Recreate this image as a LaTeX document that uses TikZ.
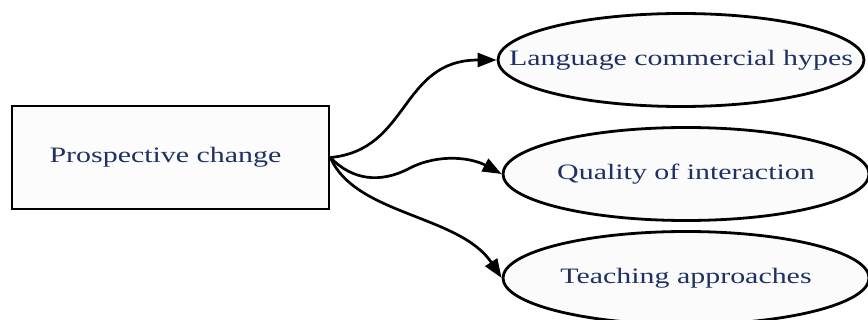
\documentclass[tikz,border=0pt]{standalone}
\usepackage{fontspec}
\setmainfont[FakeStretch=1.36]{Liberation Serif}
\usetikzlibrary{arrows.meta,shapes.geometric}

\definecolor{labelblue}{RGB}{30,48,100}

\begin{document}
\begin{tikzpicture}[x=1pt, y=-1pt, >={Triangle[length=19pt,width=14pt]},
		change/.style={draw, line width=2.7pt, fill=gray!2, minimum width=317pt, minimum height=103pt, inner sep=0pt, text=labelblue, font=\fontsize{22}{24}\selectfont},
		effect/.style={ellipse, draw, line width=2.8pt, fill=gray!3, minimum width=366pt, minimum height=93pt, inner sep=0pt, text=labelblue, font=\fontsize{22}{24}\selectfont},
		link/.style={->, line width=2.7pt}]
		\useasboundingbox (0,0) rectangle (868,320);
		\clip (0,0) rectangle (868,320);

		\node [change] (prospect) at (170.5,157.5) {\makebox[0pt]{\hspace{-10pt}Prospective change}};

		\foreach \n/\t/\x/\y in {lang/Language commercial hypes/681/60, quality/Quality of interaction/686/174, teaching/Teaching approaches/686/278}
		\node [effect] (\n) at (\x,\y) {\makebox[0pt]{\t}};

		\draw [link] (prospect.east) .. controls (410,150) and (400,60) .. (lang.west);
		\draw [link] (prospect.east) .. controls (352,180) and (380,184) .. (410,168) .. controls (440,153) and (472,158) .. (quality.west);
		\draw [link] (prospect.east) .. controls (355,215) and (460,215) .. (teaching.west);

	\end{tikzpicture}
\end{document}
